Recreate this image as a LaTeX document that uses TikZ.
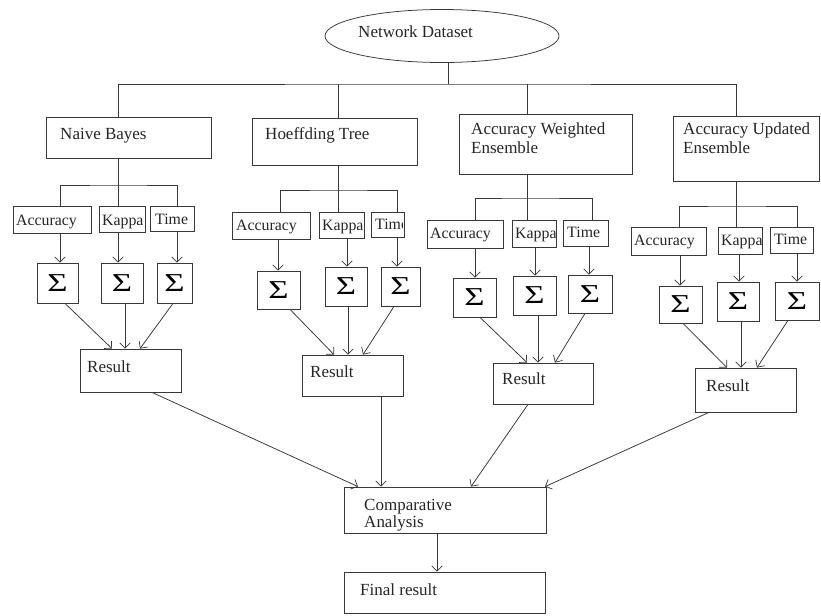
\documentclass[tikz,border=0pt]{standalone}
\usepackage{fontspec}
\setmainfont{Liberation Serif}
\usetikzlibrary{arrows.meta,fit,shapes.geometric,calc}
\tikzset{
  ln/.style={draw=black!78, line width=0.65pt},
  bx/.style={ln, rectangle, inner sep=0pt},
  sg/.style={ln, rectangle, inner sep=0pt, font=\fontsize{22}{22}\selectfont},
  tx/.style={inner sep=0pt, anchor=base west, font=\fontsize{14.5}{17}\selectfont, text=black!85},
  sm/.style={font=\fontsize{13.5}{16}\selectfont},
  ar/.style={ln, -{Straight Barb[length=4.5pt,width=9pt,line width=0.6pt]}},
}
\newcommand{\bxx}[5]{\node[bx, fit={(#2,#3) (#4,#5)}] (#1) {};}
\newcommand{\sgg}[5]{\node[sg, minimum width={(#4-#2)*0.03cm}, minimum height={(#5-#3)*0.03cm}] (#1) at ({(#2+#4)/2},{(#3+#5)/2}) {\scalebox{1.35}[1]{Σ}};}
\newcommand{\txt}[4]{\node[tx] (#1) at (#2,#3) {#4};}
\newcommand{\stx}[4]{\node[tx,sm] (#1) at (#2,#3) {#4};}
\begin{document}
\begin{tikzpicture}[x=0.03cm,y=-0.03cm]
\useasboundingbox[fill=white] (0,0) rectangle (821,615);

% top ellipse
\node[ln, ellipse, inner sep=0pt, minimum width=7.02cm, minimum height=1.59cm] (nd) at (442,36) {};
\txt{ndt}{358}{37}{Network Dataset}
\coordinate (bus) at (448,84);

% algorithm boxes
\bxx{nb}{46}{117}{211}{158}
\txt{nbt}{60}{139}{Naive Bayes}
\bxx{ht}{252}{118}{417}{165}
\txt{htt}{265}{139}{Hoeffding Tree}
\bxx{awe}{459}{114}{632}{174}
\txt{awet}{471}{134}{Accuracy Weighted}
\txt{awet2}{471}{153}{Ensemble}
\bxx{aue}{673}{116}{819}{181}
\txt{auet}{683}{134}{Accuracy Updated}
\txt{auet2}{683}{153}{Ensemble}

\draw[ln] (nd.south -| bus) -- (bus);
\draw[ln] (nb.north -| 118,0) |- (bus) -| (aue.north -| 736,0);
\draw[ln] (ht.north -| 338,0) -- (bus -| 338,0);
\draw[ln] (awe.north -| 527,0) -- (bus -| 527,0);

% ---------- Naive Bayes group
\bxx{a1}{13}{206}{91}{233}
\bxx{k1}{99}{206}{145}{232}
\bxx{m1}{150}{206}{194}{231}
\stx{a1t}{16}{225}{Accuracy}
\stx{k1t}{102}{225}{Kappa}
\stx{m1t}{155}{224}{Time}
\sgg{s11}{37}{263}{78}{303}
\sgg{s12}{101}{263}{143}{303}
\sgg{s13}{157}{263}{192}{303}
\bxx{r1}{80}{349}{181}{392}
\txt{r1t}{87}{372}{Result}
\draw[ln] (nb.south -| 118,0) -- (118,185);
\draw[ln] (a1.north -| 60,0) |- (118,185) -| (m1.north -| 177,0);
\draw[ln] (k1.north -| 118,0) -- (118,185);
\draw[ar] (a1.south -| 60,0) -- (s11.north -| 60,0);
\draw[ar] (k1.south -| 118,0) -- (s12.north -| 118,0);
\draw[ar] (m1.south -| 177,0) -- (s13.north -| 177,0);
\draw[ar] (s11.south -| 65,0) -- (r1.north -| 112,0);
\draw[ar] (s12.south -| 125,0) -- (r1.north -| 125,0);
\draw[ar] (s13.south -| 173,0) -- (r1.north -| 140,0);

% ---------- Hoeffding group
\bxx{a2}{232}{212}{310}{239}
\bxx{k2}{319}{212}{364}{238}
\bxx{m2}{371}{212}{404}{237}
\stx{a2t}{236}{230}{Accuracy}
\stx{k2t}{322}{230}{Kappa}
\begin{scope}
\clip (371,200) rectangle (402,240);
\stx{m2t}{375}{229}{Time}
\end{scope}
\sgg{s21}{257}{271}{300}{309}
\sgg{s22}{325}{267}{367}{306}
\sgg{s23}{381}{267}{420}{306}
\bxx{r2}{302}{355}{403}{396}
\txt{r2t}{310}{377}{Result}
\draw[ln] (ht.south -| 338,0) -- (338,190);
\draw[ln] (a2.north -| 280,0) |- (338,190) -| (m2.north -| 397,0);
\draw[ln] (k2.north -| 338,0) -- (338,190);
\draw[ar] (a2.south -| 278,0) -- (s21.north -| 278,0);
\draw[ar] (k2.south -| 347,0) -- (s22.north -| 347,0);
\draw[ar] (m2.south -| 397,0) -- (s23.north -| 397,0);
\draw[ar] (s21.south -| 290,0) -- (r2.north -| 334,0);
\draw[ar] (s22.south -| 348,0) -- (r2.north -| 348,0);
\draw[ar] (s23.south -| 394,0) -- (r2.north -| 363,0);

% ---------- AWE group
\bxx{a3}{427}{220}{503}{248}
\bxx{k3}{512}{220}{556}{247}
\bxx{m3}{563}{220}{608}{246}
\stx{a3t}{430}{238}{Accuracy}
\stx{k3t}{515}{238}{Kappa}
\stx{m3t}{567}{237}{Time}
\sgg{s31}{453}{278}{496}{317}
\sgg{s32}{513}{276}{556}{315}
\sgg{s33}{568}{275}{612}{313}
\bxx{r3}{493}{363}{593}{404}
\txt{r3t}{502}{384}{Result}
\draw[ln] (awe.south -| 527,0) -- (527,198);
\draw[ln] (a3.north -| 475,0) |- (527,198) -| (m3.north -| 592,0);
\draw[ln] (k3.north -| 527,0) -- (527,198);
\draw[ar] (a3.south -| 475,0) -- (s31.north -| 475,0);
\draw[ar] (k3.south -| 535,0) -- (s32.north -| 535,0);
\draw[ar] (m3.south -| 589,0) -- (s33.north -| 589,0);
\draw[ar] (s31.south -| 480,0) -- (r3.north -| 527,0);
\draw[ar] (s32.south -| 538,0) -- (r3.north -| 538,0);
\draw[ar] (s33.south -| 585,0) -- (r3.north -| 555,0);

% ---------- AUE group
\bxx{a4}{631}{227}{706}{255}
\bxx{k4}{718}{227}{762}{254}
\bxx{m4}{770}{227}{813}{253}
\stx{a4t}{634}{245}{Accuracy}
\stx{k4t}{721}{245}{Kappa}
\stx{m4t}{774}{244}{Time}
\sgg{s41}{659}{286}{702}{323}
\sgg{s42}{717}{282}{759}{321}
\sgg{s43}{775}{282}{819}{320}
\bxx{r4}{695}{368}{796}{412}
\txt{r4t}{706}{391}{Result}
\draw[ln] (aue.south -| 736,0) -- (736,206);
\draw[ln] (a4.north -| 679,0) |- (736,206) -| (m4.north -| 797,0);
\draw[ln] (k4.north -| 736,0) -- (736,206);
\draw[ar] (a4.south -| 680,0) -- (s41.north -| 680,0);
\draw[ar] (k4.south -| 739,0) -- (s42.north -| 739,0);
\draw[ar] (m4.south -| 797,0) -- (s43.north -| 797,0);
\draw[ar] (s41.south -| 683,0) -- (r4.north -| 727,0);
\draw[ar] (s42.south -| 741,0) -- (r4.north -| 741,0);
\draw[ar] (s43.south -| 788,0) -- (r4.north -| 757,0);

% ---------- bottom
\bxx{ca}{344}{487}{546}{533}
\txt{cat}{364}{510}{Comparative}
\txt{cat2}{364}{527}{Analysis}
\bxx{fr}{344}{572}{545}{613}
\txt{frt}{360}{595}{Final result}
\draw[ar] (r1.south -| 152,0) -- (ca.north -| 358,0);
\draw[ar] (r2.south -| 381,0) -- (ca.north -| 381,0);
\draw[ar] (r3.south -| 528,0) -- (ca.north -| 471,0);
\draw[ar] (r4.south -| 709,0) -- (ca.north -| 545,0);
\draw[ar] (ca.south -| 437,0) -- (fr.north -| 437,0);
\end{tikzpicture}
\end{document}
